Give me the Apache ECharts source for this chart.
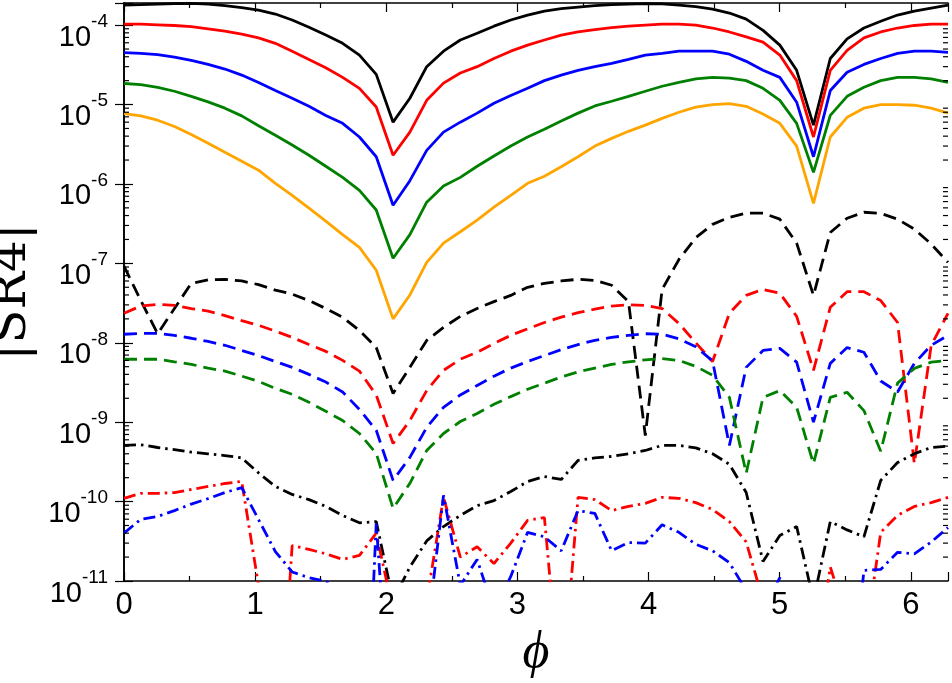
<!DOCTYPE html>
<html>
<head>
<meta charset="utf-8">
<script src="https://cdn.jsdelivr.net/npm/echarts@6/dist/echarts.min.js"></script>
<style>
  html, body { margin: 0; padding: 0; background: #fff; }
  #main { width: 952px; height: 683px; }
</style>
</head>
<body>
<div id="main"></div>
<script>
// phi samples, 0 .. 2pi (50 points)
const phi = [0, 0.1282, 0.2565, 0.3847, 0.5129, 0.6411, 0.7694, 0.8976, 1.0258, 1.1541,
  1.2823, 1.4105, 1.5387, 1.6670, 1.7952, 1.9234, 2.0517, 2.1799, 2.3081, 2.4363,
  2.5646, 2.6928, 2.8210, 2.9493, 3.0775, 3.2057, 3.3339, 3.4622, 3.5904, 3.7186,
  3.8468, 3.9751, 4.1033, 4.2315, 4.3598, 4.4880, 4.6162, 4.7444, 4.8727, 5.0009,
  5.1291, 5.2574, 5.3856, 5.5138, 5.6420, 5.7703, 5.8985, 6.0267, 6.1550, 6.2832];

// solid curves
const solidBlack = [1.79e-4, 1.81e-4, 1.84e-4, 1.87e-4, 1.88e-4, 1.84e-4, 1.76e-4, 1.66e-4, 1.55e-4, 1.38e-4,
  1.16e-4, 9.4e-5, 7.5e-5, 5.9e-5, 4.2e-5, 2.4e-5, 6.0e-6, 1.2e-5, 3.0e-5, 4.7e-5,
  6.5e-5, 7.9e-5, 9.7e-5, 1.16e-4, 1.34e-4, 1.50e-4, 1.61e-4, 1.69e-4, 1.76e-4, 1.81e-4,
  1.84e-4, 1.87e-4, 1.85e-4, 1.79e-4, 1.71e-4, 1.59e-4, 1.42e-4, 1.19e-4, 8.6e-5, 5.6e-5,
  2.7e-5, 5.5e-6, 3.8e-5, 6.7e-5, 9.2e-5, 1.12e-4, 1.34e-4, 1.50e-4, 1.64e-4, 1.79e-4];
const solidRed = [1.03e-4, 1.03e-4, 1.01e-4, 9.9e-5, 9.6e-5, 9.0e-5, 8.4e-5, 7.7e-5, 6.9e-5, 5.9e-5,
  4.7e-5, 3.7e-5, 2.9e-5, 2.2e-5, 1.6e-5, 9.3e-6, 2.3e-6, 4.5e-6, 1.13e-5, 1.86e-5,
  2.5e-5, 3.0e-5, 3.8e-5, 4.7e-5, 5.6e-5, 6.5e-5, 7.5e-5, 8.2e-5, 8.8e-5, 9.3e-5,
  9.7e-5, 1.0e-4, 1.03e-4, 1.03e-4, 1.0e-4, 9.2e-5, 8.2e-5, 7.1e-5, 6.1e-5, 4.2e-5,
  2.0e-5, 3.9e-6, 2.7e-5, 4.8e-5, 6.9e-5, 8.2e-5, 9.2e-5, 9.9e-5, 1.03e-4, 1.03e-4];
const solidBlue = [4.5e-5, 4.4e-5, 4.25e-5, 3.95e-5, 3.6e-5, 3.2e-5, 2.8e-5, 2.35e-5, 1.9e-5, 1.5e-5,
  1.2e-5, 9.5e-6, 7.3e-6, 5.8e-6, 3.9e-6, 2.2e-6, 5.4e-7, 1.1e-6, 2.65e-6, 4.5e-6,
  6.0e-6, 7.8e-6, 1.04e-5, 1.3e-5, 1.6e-5, 2.0e-5, 2.35e-5, 2.7e-5, 3.0e-5, 3.3e-5,
  3.7e-5, 4.2e-5, 4.4e-5, 4.7e-5, 4.7e-5, 4.7e-5, 4.3e-5, 3.5e-5, 2.7e-5, 2.2e-5,
  1.07e-5, 2.2e-6, 1.5e-5, 2.55e-5, 3.2e-5, 3.8e-5, 4.4e-5, 4.7e-5, 4.7e-5, 4.55e-5];
const solidGreen = [1.84e-5, 1.78e-5, 1.65e-5, 1.47e-5, 1.27e-5, 1.08e-5, 9.0e-6, 7.2e-6, 5.4e-6, 4.1e-6,
  3.1e-6, 2.3e-6, 1.67e-6, 1.21e-6, 8.3e-7, 4.7e-7, 1.16e-7, 2.3e-7, 5.9e-7, 9.4e-7,
  1.21e-6, 1.67e-6, 2.25e-6, 3.0e-6, 3.9e-6, 4.9e-6, 6.2e-6, 7.8e-6, 9.6e-6, 1.1e-5,
  1.27e-5, 1.47e-5, 1.7e-5, 1.9e-5, 2.1e-5, 2.2e-5, 2.15e-5, 2.0e-5, 1.6e-5, 1.13e-5,
  5.8e-6, 1.4e-6, 7.3e-6, 1.27e-5, 1.65e-5, 2.0e-5, 2.2e-5, 2.2e-5, 2.1e-5, 1.9e-5];
const solidOrange = [7.7e-6, 7.2e-6, 6.35e-6, 5.3e-6, 4.2e-6, 3.26e-6, 2.5e-6, 1.93e-6, 1.49e-6, 1.02e-6,
  7.2e-7, 4.95e-7, 3.4e-7, 2.3e-7, 1.59e-7, 8.2e-8, 2.0e-8, 4.0e-8, 1.03e-7, 1.8e-7,
  2.5e-7, 3.5e-7, 5.1e-7, 7.2e-7, 1.02e-6, 1.25e-6, 1.65e-6, 2.2e-6, 3.0e-6, 3.75e-6,
  4.6e-6, 5.5e-6, 6.7e-6, 8.0e-6, 9.3e-6, 1.0e-5, 1.03e-5, 9.5e-6, 7.6e-6, 5.8e-6,
  3.0e-6, 5.7e-7, 3.9e-6, 6.9e-6, 9.0e-6, 1.0e-5, 1.0e-5, 9.8e-6, 9.0e-6, 7.8e-6];

// dashed curves
const dashBlack = [9.2e-8, 3.4e-8, 1.3e-8, 2.7e-8, 5.6e-8, 6.2e-8, 6.3e-8, 6.0e-8, 5.4e-8, 4.6e-8,
  4.1e-8, 3.4e-8, 2.7e-8, 2.1e-8, 1.43e-8, 8.7e-9, 2.3e-9, 4.9e-9, 1.07e-8, 1.56e-8,
  2.15e-8, 2.7e-8, 3.3e-8, 3.95e-8, 5.0e-8, 5.6e-8, 6.0e-8, 6.3e-8, 6.1e-8, 5.3e-8,
  3.3e-8, 6.8e-10, 4.7e-8, 1.12e-7, 2.1e-7, 3.1e-7, 3.8e-7, 4.3e-7, 4.3e-7, 3.6e-7,
  1.8e-7, 3.95e-8, 2.45e-7, 3.7e-7, 4.4e-7, 4.25e-7, 3.6e-7, 2.7e-7, 1.75e-7, 1.03e-7];
const dashRed = [2.35e-8, 2.9e-8, 3.05e-8, 2.95e-8, 2.7e-8, 2.5e-8, 2.2e-8, 1.9e-8, 1.66e-8, 1.4e-8,
  1.17e-8, 9.5e-9, 7.8e-9, 6.0e-9, 4.4e-9, 2.2e-9, 5.4e-10, 1.05e-9, 2.5e-9, 4.5e-9,
  6.2e-9, 7.6e-9, 9.8e-9, 1.24e-8, 1.5e-8, 1.8e-8, 2.1e-8, 2.4e-8, 2.65e-8, 2.9e-8,
  3.0e-8, 2.95e-8, 2.7e-8, 1.75e-8, 1.0e-8, 5.8e-9, 2.35e-8, 3.95e-8, 4.7e-8, 4.2e-8,
  2.15e-8, 4.5e-9, 2.8e-8, 4.4e-8, 4.4e-8, 3.4e-8, 1.8e-8, 3.0e-10, 9.3e-9, 2.35e-8];
const dashBlue = [1.28e-8, 1.31e-8, 1.31e-8, 1.24e-8, 1.14e-8, 1.04e-8, 9.3e-9, 8.0e-9, 6.9e-9, 5.8e-9,
  4.9e-9, 4.0e-9, 3.2e-9, 2.4e-9, 1.45e-9, 7.9e-10, 1.85e-10, 3.6e-10, 8.6e-10, 1.54e-9,
  2.2e-9, 2.9e-9, 3.8e-9, 4.8e-9, 5.8e-9, 6.9e-9, 8.2e-9, 9.5e-9, 1.07e-8, 1.17e-8,
  1.24e-8, 1.3e-8, 1.28e-8, 1.12e-8, 8.9e-9, 5.9e-9, 5.1e-10, 4.9e-9, 8.0e-9, 8.5e-9,
  5.7e-9, 1.0e-9, 5.5e-9, 8.7e-9, 7.6e-9, 3.3e-9, 2.4e-9, 5.5e-9, 9.3e-9, 1.24e-8];
const dashGreen = [6.2e-9, 6.2e-9, 6.2e-9, 5.75e-9, 5.35e-9, 4.8e-9, 4.4e-9, 3.8e-9, 3.27e-9, 2.67e-9,
  2.24e-9, 1.78e-9, 1.37e-9, 1.05e-9, 7.2e-10, 4.05e-10, 8.2e-11, 1.7e-10, 4.4e-10, 7.2e-10,
  1.02e-9, 1.29e-9, 1.68e-9, 2.1e-9, 2.6e-9, 3.1e-9, 3.7e-9, 4.3e-9, 4.8e-9, 5.35e-9,
  5.75e-9, 6.1e-9, 6.3e-9, 6.0e-9, 5.05e-9, 3.9e-9, 2.05e-9, 2.27e-10, 2.05e-9, 2.5e-9,
  1.54e-9, 3.0e-10, 2.05e-9, 2.38e-9, 1.4e-9, 4.3e-10, 3.1e-9, 4.76e-9, 5.7e-9, 6.0e-9];

// dash-dot curves
const dotBlack = [5.1e-10, 5.2e-10, 4.8e-10, 4.5e-10, 4.2e-10, 4.0e-10, 3.8e-10, 3.55e-10, 2.3e-10, 1.55e-10,
  1.23e-10, 1.06e-10, 8.7e-11, 6.7e-11, 5.4e-11, 5.6e-11, 5.7e-12, 1.5e-11, 3.2e-11, 4.85e-11,
  6.7e-11, 8.9e-11, 1.03e-10, 1.34e-10, 1.79e-10, 2.07e-10, 1.9e-10, 3.3e-10, 3.55e-10, 3.7e-10,
  4.0e-10, 4.4e-10, 5.1e-10, 5.1e-10, 4.75e-10, 4.0e-10, 2.95e-10, 1.3e-10, 1.76e-11, 3.75e-11,
  4.85e-11, 5.7e-12, 5.6e-11, 4.4e-11, 3.6e-11, 1.85e-10, 3.1e-10, 4.0e-10, 4.8e-10, 5.0e-10];
const dotRed = [1.1e-10, 1.27e-10, 1.27e-10, 1.3e-10, 1.42e-10, 1.55e-10, 1.69e-10, 1.8e-10, 8.8e-12, 1.7e-14,
  2.8e-11, 2.5e-11, 2.2e-11, 1.87e-11, 2.1e-11, 4.0e-11, 4.2e-12, 1.3e-12, 5.6e-12, 1.13e-10,
  2.0e-11, 2.7e-11, 1.66e-11, 3.0e-11, 5.8e-11, 6.3e-11, 3e-13, 1.13e-10, 1.06e-10, 7.7e-11,
  8.7e-11, 9.5e-11, 1.13e-10, 1.1e-10, 9.7e-11, 7.95e-11, 5.6e-11, 3.1e-11, 5.7e-12, 1.3e-12,
  1e-12, 5.6e-13, 1.5e-11, 3.2e-12, 1.3e-12, 4.1e-11, 6.7e-11, 8.7e-11, 9.7e-11, 1.13e-10];
const dotBlue = [4.0e-11, 6.0e-11, 6.5e-11, 7.7e-11, 9.3e-11, 1.09e-10, 1.3e-10, 1.5e-10, 5.95e-11, 2.35e-11,
  1.3e-11, 1.1e-11, 9.9e-12, 7.6e-12, 1e-15, 5.3e-11, 5.3e-14, 1.3e-12, 1.9e-12, 1.2e-10,
  8.8e-12, 1.87e-11, 4.2e-12, 1.14e-11, 4.1e-11, 3.6e-11, 2.4e-11, 7.7e-11, 7.1e-11, 2.4e-11,
  3.05e-11, 3.0e-11, 5.1e-11, 4.1e-11, 2.9e-11, 2.4e-11, 1.7e-11, 7.6e-12, 4.2e-12, 1.1e-11,
  3.2e-12, 1.3e-12, 1.8e-12, 1e-13, 1.36e-11, 1.4e-11, 2.3e-11, 2.2e-11, 3.1e-11, 4.7e-11];

// axis ticks and labels
const xTickLabels = ['0', '1', '2', '3', '4', '5', '6'];
const yTickExponents = ['-11', '-10', '-9', '-8', '-7', '-6', '-5', '-4'];
const yMin = 1e-11;
const yMax = 1.9e-4;
const minorMantissas = [2, 3, 4, 5, 6, 7, 8, 9];

const minorTickValues = [];
yTickExponents.slice(0, -1).forEach(e => {
  minorMantissas.forEach(m => minorTickValues.push(m * Math.pow(10, Number(e))));
});

const DASH = [13, 7];
const DASHDOT = [12, 5, 2.5, 5];

function makeLine(name, values, color, dash) {
  return {
    name: name,
    type: 'line',
    data: phi.map((x, i) => [x, values[i]]),
    symbol: 'none',
    clip: true,
    lineStyle: { color: color, width: 2.8, type: dash }
  };
}

const chart = echarts.init(document.getElementById('main'));

const tickFont = 'Liberation Sans, Arial, Helvetica, sans-serif';
const serifFont = 'DejaVu Serif, Liberation Serif, serif';

const xAxisBase = {
  type: 'value',
  min: 0,
  max: phi[phi.length - 1],
  interval: 1,
  splitLine: { show: false },
  axisLine: { show: true, onZero: false, lineStyle: { color: '#000', width: 1.6 } },
  axisTick: { show: true, inside: true, length: 9, lineStyle: { color: '#000', width: 1.2 } },
  minorTick: { show: true, splitNumber: 2, length: 5, lineStyle: { color: '#000', width: 1.2 } }
};

const yAxisBase = {
  type: 'log',
  logBase: 10,
  min: yMin,
  max: yMax,
  splitLine: { show: false },
  axisLine: { show: true, lineStyle: { color: '#000', width: 1.6 } },
  axisTick: { show: true, inside: true, length: 9, lineStyle: { color: '#000', width: 1.2 } }
};

const option = {
  animation: false,
  backgroundColor: '#fff',
  grid: { left: 124, right: 4, top: 3, bottom: 102, outerBoundsMode: 'none' },
  xAxis: [
    Object.assign({}, xAxisBase, {
      position: 'bottom',
      name: '\u03D5',
      nameLocation: 'middle',
      nameGap: 46,
      nameTextStyle: { fontFamily: 'Liberation Serif, serif', fontStyle: 'italic', fontSize: 52, color: '#000' },
      axisLabel: {
        show: true,
        margin: 9,
        fontFamily: tickFont,
        fontSize: 31,
        color: '#000',
        formatter: v => (Math.abs(v - Math.round(v)) < 1e-6 && xTickLabels[Math.round(v)] !== undefined) ? xTickLabels[Math.round(v)] : ''
      }
    }),
    Object.assign({}, xAxisBase, { position: 'top', axisLabel: { show: false } })
  ],
  yAxis: [
    Object.assign({}, yAxisBase, {
      position: 'left',
      name: '|SR4|',
      nameLocation: 'middle',
      nameGap: 58,
      nameTextStyle: { fontFamily: serifFont, fontSize: 50, color: '#000' },
      axisLabel: {
        show: true,
        margin: 16,
        align: 'right',
        padding: [14, 0, 0, 0],
        color: '#000',
        formatter: v => {
          const e = Math.log10(v);
          const r = Math.round(e);
          if (Math.abs(e - r) > 1e-6) return '';
          const lbl = yTickExponents.find(s => Number(s) === r);
          return lbl === undefined ? '' : '{b|10}{s|' + lbl + '}';
        },
        rich: {
          b: { fontFamily: tickFont, fontSize: 29, lineHeight: 40, align: 'right', verticalAlign: 'bottom', color: '#000' },
          s: { fontFamily: tickFont, fontSize: 19, lineHeight: 40, align: 'right', verticalAlign: 'top', color: '#000' }
        }
      }
    }),
    Object.assign({}, yAxisBase, { position: 'right', axisLabel: { show: false } })
  ],
  series: [
    makeLine('solid black', solidBlack, '#000000', 'solid'),
    makeLine('solid red', solidRed, '#ff0000', 'solid'),
    makeLine('solid blue', solidBlue, '#0000ff', 'solid'),
    makeLine('solid green', solidGreen, '#008000', 'solid'),
    makeLine('solid orange', solidOrange, '#ffa500', 'solid'),
    makeLine('dashed black', dashBlack, '#000000', DASH),
    makeLine('dashed red', dashRed, '#ff0000', DASH),
    makeLine('dashed blue', dashBlue, '#0000ff', DASH),
    makeLine('dashed green', dashGreen, '#008000', DASH),
    makeLine('dashdot black', dotBlack, '#000000', DASHDOT),
    makeLine('dashdot red', dotRed, '#ff0000', DASHDOT),
    makeLine('dashdot blue', dotBlue, '#0000ff', DASHDOT),
    {
      // log minor ticks on left and right frame
      type: 'custom',
      silent: true,
      z: 5,
      data: minorTickValues.map(v => [0, v]),
      renderItem: function (params, api) {
        const y = api.coord([0, api.value(1)])[1];
        const cs = params.coordSys;
        const st = { stroke: '#000', lineWidth: 1.2 };
        return {
          type: 'group',
          children: [
            { type: 'line', shape: { x1: cs.x, y1: y, x2: cs.x + 5, y2: y }, style: st },
            { type: 'line', shape: { x1: cs.x + cs.width, y1: y, x2: cs.x + cs.width - 5, y2: y }, style: st }
          ]
        };
      }
    }
  ]
};

chart.setOption(option);
</script>
</body>
</html>
